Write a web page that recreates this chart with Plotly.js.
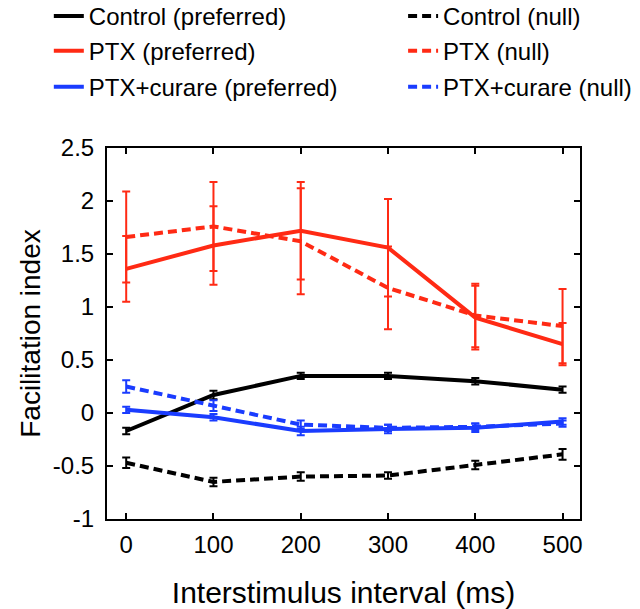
<!DOCTYPE html>
<html>
<head>
<meta charset="utf-8">
<script src="https://cdn.plot.ly/plotly-3.0.1.min.js"></script>
<style>
  html, body { margin: 0; padding: 0; background: #fff; }
  #myDiv { width: 640px; height: 609px; }
</style>
</head>
<body>
<div id="myDiv"></div>
<script>
// interstimulus interval (ms)
const intervals = [0, 100, 200, 300, 400, 500];
const xTickVals = [0, 100, 200, 300, 400, 500];
const yTickVals = [-1, -0.5, 0, 0.5, 1, 1.5, 2, 2.5];
const yTickText = ['-1', '-0.5', '0', '0.5', '1', '1.5', '2', '2.5'];

const ctrlPref = [-0.17, 0.17, 0.35, 0.35, 0.30, 0.22];
const ctrlPrefErr = [0.03, 0.04, 0.03, 0.03, 0.03, 0.03];
const ctrlNull = [-0.47, -0.65, -0.60, -0.59, -0.49, -0.39];
const ctrlNullErr = [0.05, 0.04, 0.04, 0.03, 0.04, 0.05];

const ptxPref = [1.36, 1.58, 1.72, 1.56, 0.90, 0.65];
const ptxPrefErr = [0.31, 0.37, 0.46, 0.46, 0.30, 0.20];
const ptxNull = [1.66, 1.76, 1.62, 1.18, 0.92, 0.82];
const ptxNullErr = [0.43, 0.42, 0.50, 0.39, 0.30, 0.35];

const curPref = [0.03, -0.04, -0.17, -0.15, -0.14, -0.08];
const curPrefErr = [0.03, 0.03, 0.04, 0.04, 0.04, 0.03];
const curNull = [0.25, 0.07, -0.11, -0.14, -0.13, -0.10];
const curNullErr = [0.06, 0.05, 0.04, 0.03, 0.03, 0.03];

const black = '#000000';
const red = '#ff2a14';
const blue = '#1a3cff';
const fontFam = 'Liberation Sans, Arial, sans-serif';

function makeTrace(name, y, err, color, dash, legend) {
    return {
        x: intervals,
        y: y,
        name: name,
        type: 'scatter',
        mode: 'lines',
        legend: legend,
        line: { color: color, width: 4, dash: dash },
        error_y: {
            type: 'data',
            array: err,
            visible: true,
            color: color,
            thickness: 2,
            width: 4
        }
    };
}

var data = [
    makeTrace('Control (preferred)', ctrlPref, ctrlPrefErr, black, 'solid', 'legend'),
    makeTrace('Control (null)', ctrlNull, ctrlNullErr, black, '9px,5px', 'legend2'),
    makeTrace('PTX (preferred)', ptxPref, ptxPrefErr, red, 'solid', 'legend3'),
    makeTrace('PTX (null)', ptxNull, ptxNullErr, red, '9px,5px', 'legend4'),
    makeTrace('PTX+curare (preferred)', curPref, curPrefErr, blue, 'solid', 'legend5'),
    makeTrace('PTX+curare (null)', curNull, curNullErr, blue, '9px,5px', 'legend6')
];

// one small legend per entry, laid out as a 2 x 3 grid above the plot
function legendAt(x, y) {
    return {
        x: x,
        xanchor: 'left',
        y: y,
        yanchor: 'middle',
        bgcolor: 'rgba(0,0,0,0)',
        borderwidth: 0,
        font: { family: fontFam, size: 24, color: '#000' }
    };
}

var layout = {
    width: 640,
    height: 609,
    paper_bgcolor: '#ffffff',
    plot_bgcolor: '#ffffff',
    margin: { l: 107, r: 60, t: 148, b: 90, autoexpand: false },
    font: { family: fontFam, size: 24, color: '#000' },
    showlegend: true,
    legend: legendAt(-0.123, 1.355),
    legend2: legendAt(0.626, 1.355),
    legend3: legendAt(-0.123, 1.261),
    legend4: legendAt(0.626, 1.261),
    legend5: legendAt(-0.123, 1.164),
    legend6: legendAt(0.626, 1.164),
    xaxis: {
        range: [-22, 520],
        tickvals: xTickVals,
        ticks: 'inside',
        ticklen: 6,
        tickwidth: 2,
        tickcolor: '#000',
        showline: true,
        linecolor: '#000',
        linewidth: 2,
        mirror: 'ticks',
        showgrid: false,
        zeroline: false,
        ticklabelstandoff: 3,
        tickfont: { size: 24 },
        title: { text: 'Interstimulus interval (ms)', font: { size: 30 } }
    },
    yaxis: {
        range: [-1, 2.5],
        tickvals: yTickVals,
        ticktext: yTickText,
        ticks: 'inside',
        ticklen: 6,
        tickwidth: 2,
        tickcolor: '#000',
        showline: true,
        linecolor: '#000',
        linewidth: 2,
        mirror: 'ticks',
        showgrid: false,
        zeroline: false,
        ticklabelstandoff: 6,
        tickfont: { size: 24 },
        title: { text: 'Facilitation index', font: { size: 28 } }
    }
};

Plotly.newPlot('myDiv', data, layout, { displayModeBar: false });
</script>
</body>
</html>
